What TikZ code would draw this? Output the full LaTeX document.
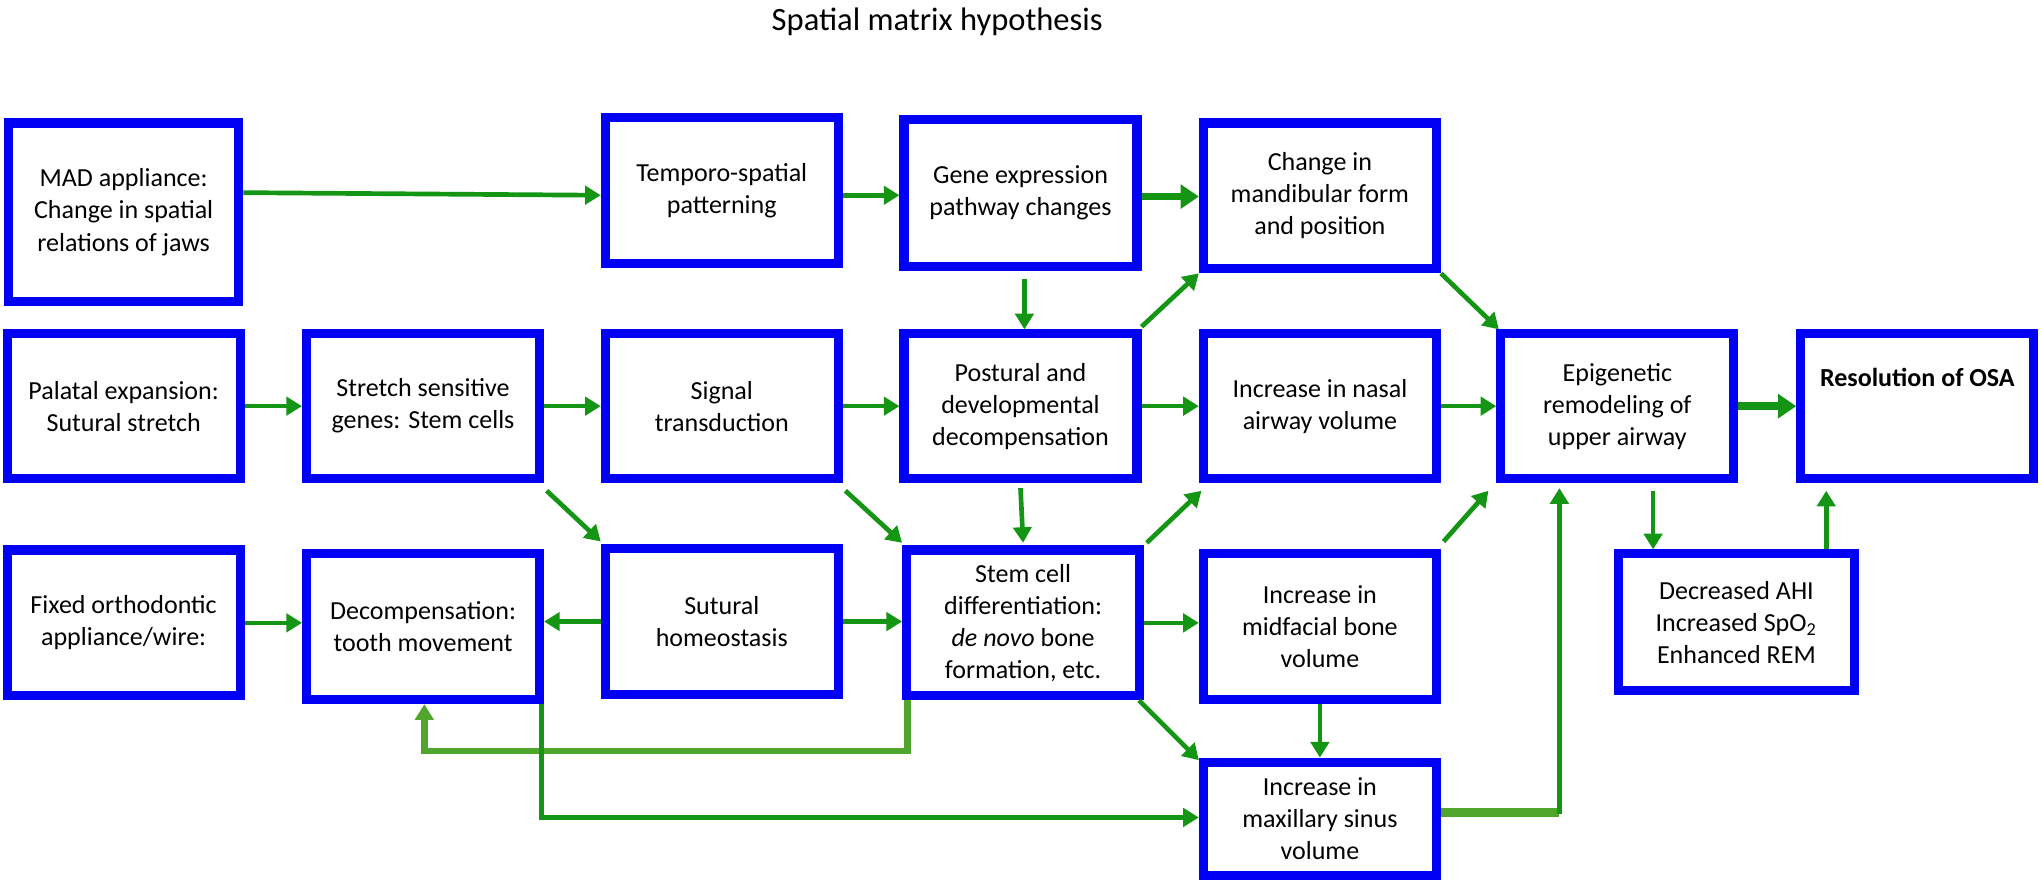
\documentclass[tikz,border=0pt]{standalone}
\usepackage{fontspec}
\setmainfont{Carlito}
\usetikzlibrary{arrows.meta,calc}
\definecolor{bl}{RGB}{0,0,245}
\definecolor{gr}{RGB}{20,150,20}
\definecolor{lg}{RGB}{80,165,45}
\begin{document}
\begin{tikzpicture}[x=0.5pt,y=-0.5pt,
 box/.style={draw=bl,line width=3.5pt,fill=white,align=center,font=\fontsize{10}{12.3}\selectfont,minimum width=89.5pt,inner sep=2pt},
 ar/.style={draw=gr,line width=1.8pt,-{Triangle[length=6pt,width=7pt]}},
 tar/.style={draw=gr,line width=3pt,-{Triangle[length=7pt,width=9pt]}},
 lar/.style={draw=lg,line width=2.6pt,-{Triangle[length=6pt,width=7pt]}}]
\useasboundingbox (0,0) rectangle (1568,677);
\node[font=\fontsize{12.5}{14}\selectfont] (title) at (720,17) {Spatial matrix hypothesis};
% row 1
\node[box,minimum width=88.5pt,minimum height=68.5pt] (mad) at (95,163) {MAD appliance:\\Change in spatial\\relations of jaws};
\node[box,minimum height=56pt] (tem) at (554.5,146.5) {Temporo-spatial\\patterning};
\node[box,minimum height=56.5pt] (gen) at (784,148) {Gene expression\\pathway changes};
\node[box,minimum height=56pt] (chg) at (1014,150.5) {Change in\\mandibular form\\and position};
% row 2
\node[box,minimum height=55.5pt] (pal) at (95,312) {Palatal expansion:\\Sutural stretch};
\node[box,minimum height=55.5pt] (str) at (325,312) {Stretch sensitive\\genes: Stem cells};
\node[box,minimum height=55.5pt] (sig) at (554.5,312) {Signal\\transduction};
\node[box,minimum height=55.5pt] (pos) at (784,312) {Postural and\\developmental\\decompensation};
\node[box,minimum height=55.5pt] (nas) at (1014,312) {Increase in nasal\\airway volume};
\node[box,minimum height=55.5pt] (epi) at (1242.5,312) {Epigenetic\\remodeling of\\upper airway};
\node[box,minimum height=55.5pt,font=\fontsize{10}{12.3}\selectfont\bfseries] (res) at (1473,312) {Resolution of OSA\\[10pt]};
% row 3
\node[box,minimum height=56pt] (fix) at (95,478.5) {Fixed orthodontic\\appliance/wire:};
\node[box,minimum height=56pt] (dec) at (325,481.5) {Decompensation:\\tooth movement};
\node[box,minimum height=56pt] (sut) at (554.5,477.5) {Sutural\\homeostasis};
\node[box,minimum height=56pt] (stm) at (786,478.5) {Stem cell\\differentiation:\\\textit{de novo} bone\\formation, etc.};
\node[box,minimum height=56pt] (mid) at (1014,481.5) {Increase in\\midfacial bone\\volume};
\node[box,minimum height=52.5pt,minimum width=90.5pt] (ahi) at (1334,478) {Decreased AHI\\Increased SpO\textsubscript{2}\\Enhanced REM};
\node[box,minimum height=43.5pt,minimum width=89.5pt] (max) at (1014,629) {Increase in\\maxillary sinus\\volume};
% arrows row 1
\draw[ar] (mad.east|-0,148) -- (tem.west|-0,150);
\draw[ar] (tem.east|-0,150) -- (gen.west|-0,150);
\draw[tar] (gen.east|-0,151) -- (chg.west|-0,151);
\draw[ar] ($(gen.south-|787,0)+(0,6)$) -- (pos.north-|787,0);
\draw[ar] ($(pos.north east)+(0,-2)$) -- ($(chg.south west)+(0,0)$);
\draw[ar] ($(chg.south east)+(0,0)$) -- ($(epi.north west)+(2,0)$);
% row 2
\draw[ar] (pal) -- (str);
\draw[ar] (str) -- (sig);
\draw[ar] (sig) -- (pos);
\draw[ar] (pos) -- (nas);
\draw[ar] (nas) -- (epi);
\draw[tar] (epi) -- (res);
% diagonals row 2 -> 3
\draw[ar] ($(str.south east)+(2,6)$) -- ($(sut.north west)+(0,-2)$);
\draw[ar] ($(sig.south east)+(2,6)$) -- ($(stm.north west)+(0,-2)$);
\draw[ar] ($(pos.south)+(0,4)$) -- ($(stm.north)+(0,-2)$);
\draw[ar] ($(stm.north east)+(2,-2)$) -- ($(nas.south west)+(2,6)$);
\draw[ar] ($(mid.north east)+(2,-6)$) -- ($(epi.south west)+(-6,6)$);
\draw[ar] (epi.south-|1270,0) ++(0,6) -- (ahi.north-|1270,0);
\draw[ar] (ahi.north-|1403,0) -- ($(res.south-|1403,0)+(0,6)$);
% row 3
\draw[ar] (fix.east) -- (fix.east-|dec.west);
\draw[ar] (sut.west) -- (sut.west-|dec.east);
\draw[ar] (sut.east) -- (sut.east-|stm.west);
\draw[ar] (stm.east) -- (stm.east-|mid.west);
\draw[ar] ($(stm.south east)+(-4,0)$) -- ($(max.north west)+(0,2)$);
\draw[ar] (mid.south) -- (max.north);
% bottom feedback lines
\draw[lar] (stm.south-|697,0) -- (697,577) -- (326,577) -- (dec.south-|326,0);
\draw[ar] (dec.south-|416,0) -- (416,628) -- (max.west|-0,628);
\draw[draw=lg,line width=3.5pt] (max.east|-0,624) -- (1198,624);
\draw[ar] (1198,625) -- ($(epi.south-|1198,0)+(0,4)$);
\end{tikzpicture}
\end{document}
